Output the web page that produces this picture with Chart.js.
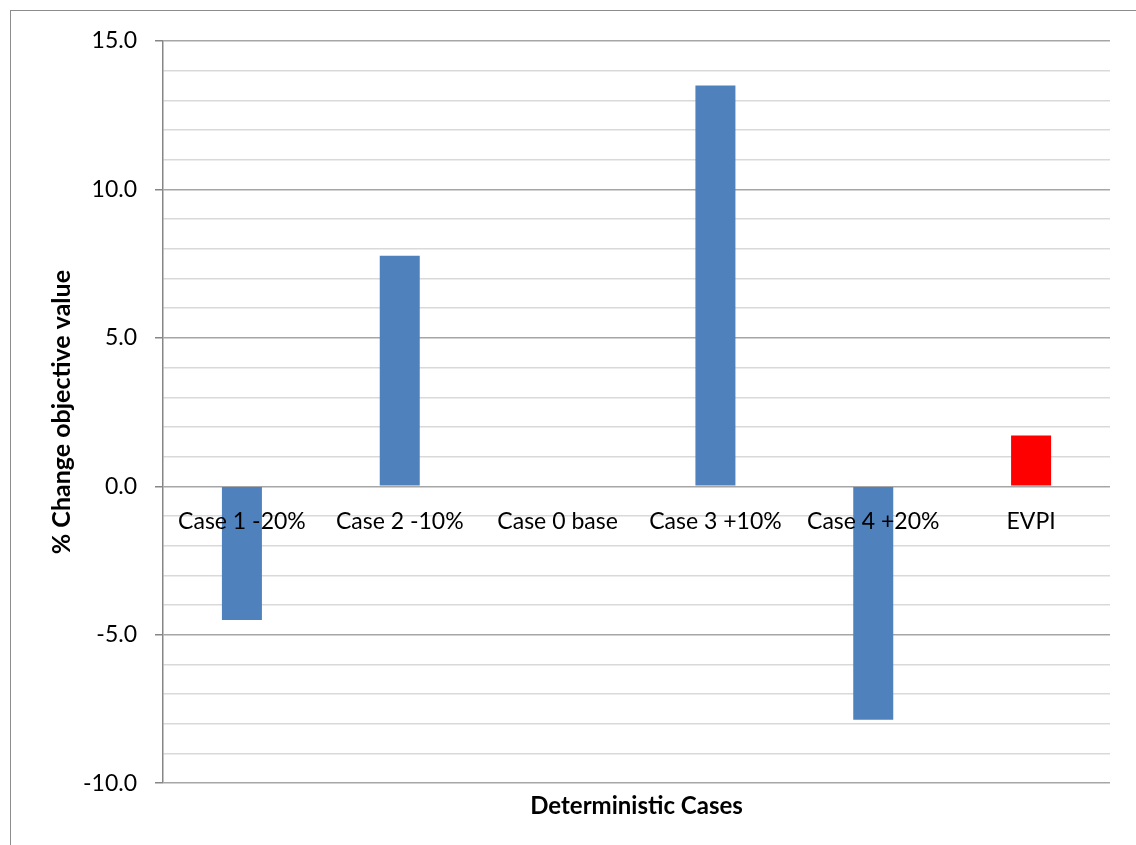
<!DOCTYPE html>
<html>
<head>
<meta charset="utf-8">
<script src="https://cdn.jsdelivr.net/npm/chart.js@4/dist/chart.umd.min.js"></script>
<style>
  html, body { margin: 0; padding: 0; background: #ffffff; }
  #wrap { position: relative; width: 1136px; height: 845px; overflow: hidden; }
  #frame {
    position: absolute; left: 10px; top: 10px; width: 1200px; height: 900px;
    border-left: 1.5px solid #8c8c8c; border-top: 1.5px solid #8c8c8c;
  }
  canvas { position: absolute; left: 0; top: 0; }
</style>
</head>
<body>
<div id="wrap">
  <div id="frame"></div>
  <canvas id="chart" width="1136" height="845"></canvas>
</div>
<script>
// Objective value change for each deterministic case, plus EVPI
const categories = ['Case 1 -20%', 'Case 2 -10%', 'Case 0 base', 'Case 3 +10%', 'Case 4 +20%', 'EVPI'];
const changeValues = [-4.5, 7.77, 0, 13.5, -7.86, 1.71];
const barColors = ['#4f81bd', '#4f81bd', '#4f81bd', '#4f81bd', '#4f81bd', '#ff0000'];
const yMin = -10;
const yMax = 15;
const yMajorStep = 5;
const yMinorStep = 1;
const xTitle = 'Deterministic Cases';
const yTitle = '% Change objective value';

const FONT = 'Lato, "Open Sans", sans-serif';
const isMajor = v => Math.abs(v % yMajorStep) < 1e-9;

new Chart(document.getElementById('chart'), {
  type: 'bar',
  data: {
    labels: categories,
    datasets: [{
      data: changeValues,
      backgroundColor: barColors,
      borderWidth: 0,
      categoryPercentage: 1.0,
      barPercentage: 0.2535
    }]
  },
  options: {
    responsive: false,
    animation: false,
    layout: { padding: { left: 47, right: 26, top: 41, bottom: 0 } },
    plugins: {
      legend: { display: false },
      tooltip: { enabled: false },
      title: {
        display: true,
        text: xTitle,
        position: 'bottom',
        fullSize: false,
        color: '#000000',
        font: { family: FONT, size: 24, weight: 'bold' },
        padding: { top: 9, bottom: 24 }
      }
    },
    scales: {
      x: {
        type: 'category',
        position: { y: 0 },
        grid: { display: false, drawTicks: false },
        border: { display: false },
        ticks: {
          z: 1, // category names sit on top of the bars
          color: '#000000',
          font: { family: FONT, size: 23 },
          padding: 21,
          maxRotation: 0,
          autoSkip: false
        }
      },
      y: {
        min: yMin,
        max: yMax,
        afterFit: scale => { scale.width = 116; },
        border: { display: true, color: '#868686', width: 1.5 },
        grid: {
          color: ctx => isMajor(ctx.tick.value) ? '#a6a6a6' : '#d9d9d9',
          lineWidth: 1.5,
          drawTicks: true,
          tickLength: 8,
          tickColor: ctx => isMajor(ctx.tick.value) ? '#868686' : 'rgba(0,0,0,0)'
        },
        ticks: {
          stepSize: yMinorStep,
          autoSkip: false,
          padding: 18,
          color: '#000000',
          font: { family: FONT, size: 23 },
          callback: v => isMajor(v) ? v.toFixed(1) : ''
        },
        title: {
          display: true,
          text: yTitle,
          color: '#000000',
          font: { family: FONT, size: 25, weight: 'bold' },
          padding: 0
        }
      }
    }
  }
});
</script>
</body>
</html>
